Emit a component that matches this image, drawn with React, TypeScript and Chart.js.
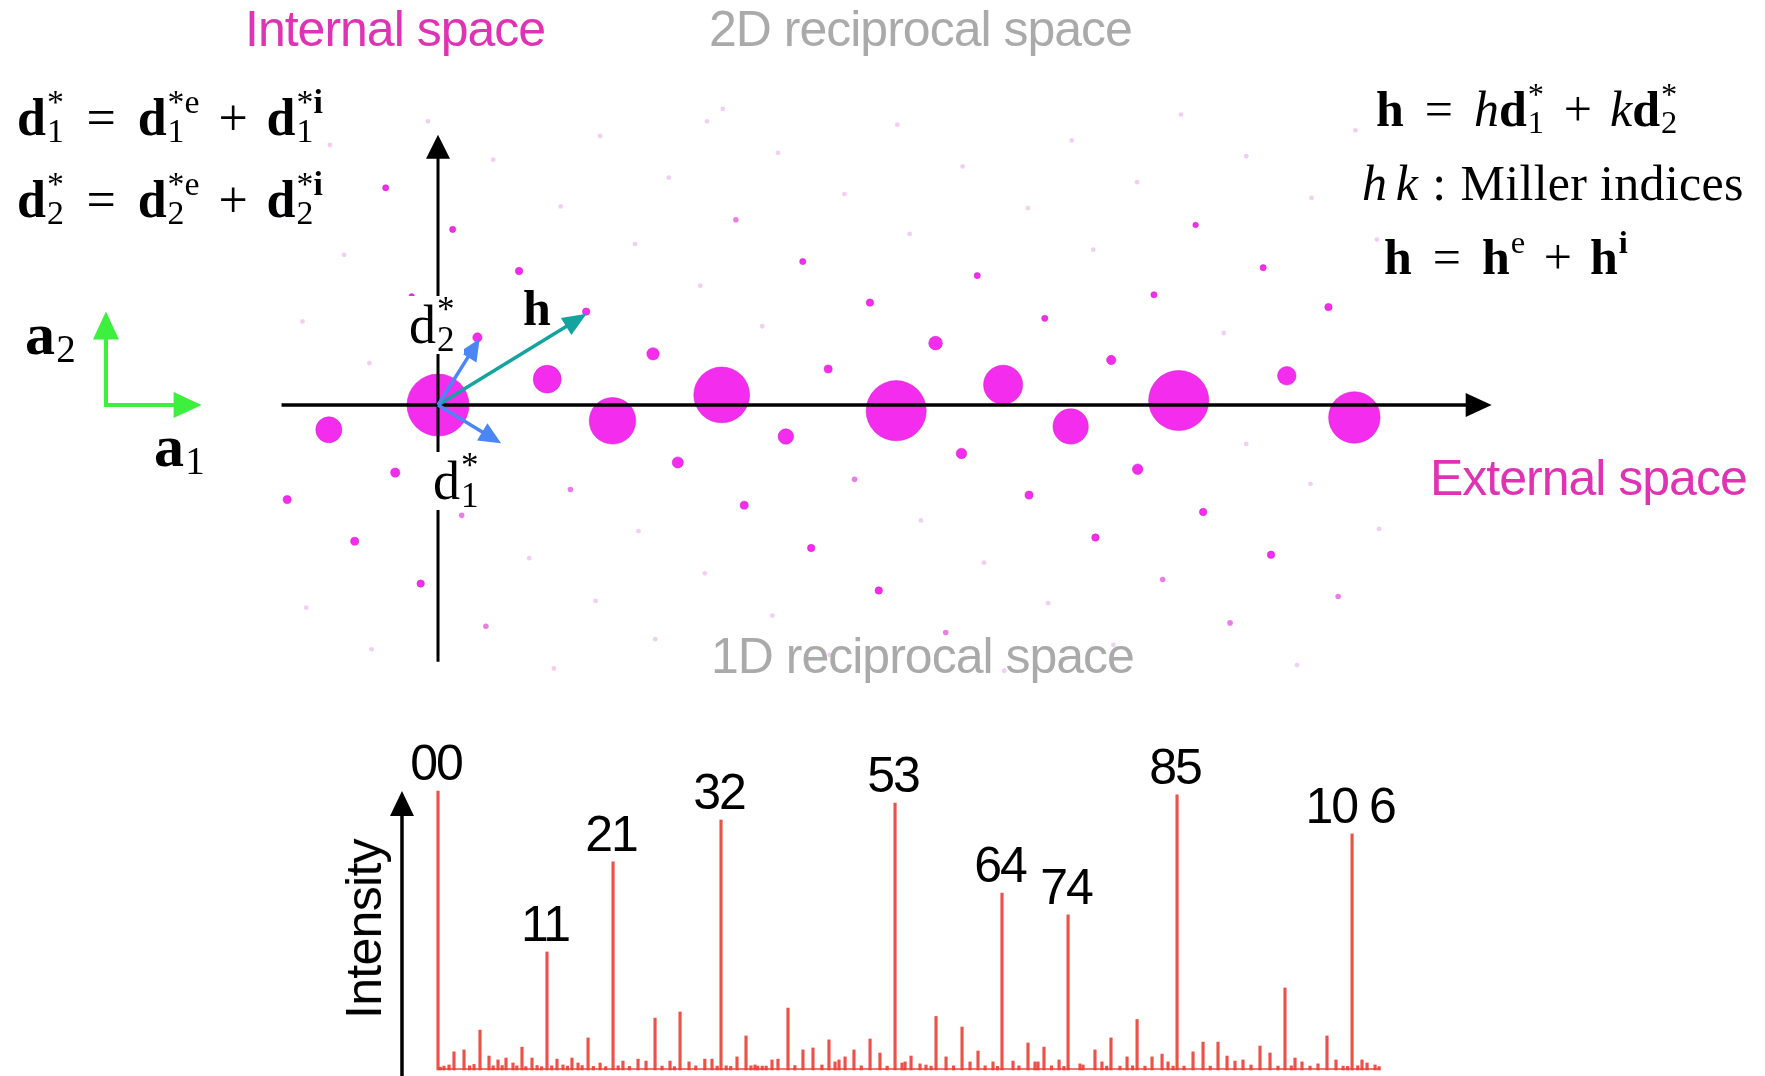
import React, { useEffect, useRef } from 'react';
import { Chart, registerables } from 'chart.js';

Chart.register(...registerables);

const W = 1765;
const H = 1076;
const TOP_H = 700;
const BOT_H = H - TOP_H;

// ---------- 2D reciprocal space (external q, internal q) ----------
const strongSpotX = [0, 0.97, 1.55, 2.52, 4.07, 5.02, 5.62, 6.58, 8.14, -0.97, 7.54, 1.91, 3.09, 4.42, 2.13, 4.65, 6.215, 5.98, 3.466, 0.35, -0.38, -0.74, -1.34, -0.154, 2.72, 3.315, 3.915, 5.25, 5.84, 6.797, 7.4, -0.465, 0.13, 0.72, 1.316, -0.234, 3.24, 3.837, 4.79, 5.39, 6.36, 6.73, 7.33, 7.91];
const strongSpotY = [0, 0.23, -0.14, 0.09, -0.05, 0.18, -0.19, 0.04, -0.11, -0.22, 0.26, 0.455, -0.28, 0.55, -0.51, -0.43, -0.57, 0.4, 0.32, 0.6, -0.6, -1.21, -0.84, -1.586, -0.89, -1.27, -1.647, -0.8, -1.177, -0.95, -1.33, 1.93, 1.56, 1.19, 0.83, 0.965, 1.275, 0.91, 1.15, 0.77, 0.98, 1.6, 1.22, 0.87];
const strongSpotI = [100, 45, 75, 90, 97, 63, 57, 97, 83, 42, 30, 20, 25, 22, 18, 17, 17, 15, 13, 15, 15, 13, 13, 12, 13, 12, 12, 13, 12, 12, 12, 10, 10, 12, 12, 9, 10, 12, 10, 10, 10, 9, 10, 12];

const weakSpotX = [0.21, 0.425, 1.176, 4.51, 3.7, 6.437, 7.036, 7.996, 2.646];
const weakSpotY = [-0.98, -1.965, -0.75, -2.02, -0.66, -1.55, -1.935, -1.7, 1.646];

const faintSpotX = [1.03, 0.81, 1.78, 2.37, 1.4, 4.29, 2.97, 7.18, 7.63, 8.36, 4.85, -1.17, -0.59, 1.93, 3.48, 5.03, 5.42, 6.0, 7.75, 2.05, 3.02, 3.61, 1.44, 0.49, -0.09, 2.39, -0.834, -1.204, -0.61, 1.09, 2.88, -1.35, -0.96, 1.75, 2.33, 2.53, 4.19, 5.24, 5.82, 6.98, 4.66, 4.08, 5.63, 6.21, 6.6, 7.18, 7.76, 8.34, 8.15];
const faintSpotY = [-2.34, -1.36, -1.12, -1.495, -1.74, -1.025, -1.87, -0.345, -2.31, -1.1, -1.4, -1.8, -2.17, -2.08, -2.22, -2.36, -1.76, -2.13, -0.7, 2.02, 2.24, 1.874, 2.39, 2.18, 2.52, 2.52, 1.334, 0.742, 0.373, 1.764, 0.7, 1.71, 2.31, 1.43, 1.06, 2.63, 1.52, 1.75, 1.38, 0.64, 2.12, 2.49, 2.35, 1.98, 2.58, 2.21, 1.84, 1.47, 2.44];

// basis and example vectors
const d1Star = [0.56, -0.34];
const d2Star = [0.37, 0.59];
const hVector = [1.32, 0.81];
// axis extents
const externalAxis = [-1.39, 9.36];
const internalAxis = [-2.28, 2.4];
// real-space frame (a1, a2)
const frameCorner = [-2.95, 0];
const a1Tip = [-2.1, 0];
const a2Tip = [-2.95, 0.83];

// ---------- 1D diffraction pattern ----------
const mainPeakLabel = ['00', '11', '21', '32', '53', '64', '74', '85', '10 6'];
const mainPeakQ = [0, 0.968, 1.555, 2.514, 4.06, 5.01, 5.597, 6.565, 8.12];
const mainPeakI = [100, 42.3, 74.6, 89.6, 95.7, 63.4, 55.6, 98.6, 84.6];
const minorPeakQ = [0.02, 0.053, 0.098, 0.142, 0.231, 0.28, 0.32, 0.373, 0.453, 0.49, 0.533, 0.57, 0.604, 0.666, 0.7, 0.746, 0.78, 0.835, 0.88, 0.92, 1.01, 1.057, 1.11, 1.15, 1.19, 1.244, 1.28, 1.333, 1.38, 1.44, 1.49, 1.6, 1.643, 1.7, 1.777, 1.848, 1.928, 1.99, 2.061, 2.1, 2.15, 2.23, 2.29, 2.37, 2.434, 2.48, 2.56, 2.6, 2.656, 2.736, 2.78, 2.816, 2.84, 2.88, 2.915, 2.967, 3.02, 3.109, 3.17, 3.242, 3.331, 3.41, 3.473, 3.527, 3.562, 3.616, 3.695, 3.76, 3.838, 3.926, 3.99, 4.122, 4.149, 4.202, 4.282, 4.335, 4.38, 4.424, 4.513, 4.58, 4.655, 4.726, 4.797, 4.86, 4.93, 4.97, 5.108, 5.16, 5.241, 5.303, 5.33, 5.383, 5.45, 5.517, 5.56, 5.703, 5.73, 5.836, 5.898, 5.94, 5.978, 6.058, 6.121, 6.17, 6.21, 6.28, 6.343, 6.432, 6.485, 6.53, 6.627, 6.707, 6.796, 6.86, 6.929, 7.009, 7.08, 7.151, 7.222, 7.302, 7.391, 7.462, 7.524, 7.58, 7.613, 7.675, 7.746, 7.817, 7.897, 7.977, 8.04, 8.08, 8.17, 8.208, 8.253, 8.324, 8.36];
const minorPeakI = [1.0, 1.4, 1.8, 6.5, 7.2, 1.5, 2.0, 14.3, 5.0, 1.5, 3.6, 1.6, 4.3, 2.5, 1.5, 8.2, 1.2, 4.3, 1.6, 1.2, 1.5, 3.9, 1.8, 1.4, 4.3, 2.5, 1.6, 11.5, 1.3, 2.5, 1.2, 1.5, 3.2, 1.3, 3.9, 3.2, 18.6, 1.4, 3.2, 1.2, 20.8, 2.9, 1.5, 3.9, 3.9, 1.4, 1.5, 1.3, 4.7, 12.2, 1.5, 1.8, 1.4, 1.4, 1.4, 3.6, 3.9, 22.2, 1.6, 7.2, 7.9, 1.8, 10.8, 2.9, 3.6, 4.7, 7.2, 1.5, 11.1, 6.1, 1.4, 2.5, 2.9, 5.0, 2.2, 1.8, 1.4, 19.2, 4.7, 1.5, 15.4, 2.9, 6.8, 1.5, 2.9, 1.3, 3.2, 1.5, 9.7, 2.9, 2.9, 8.2, 1.5, 3.6, 1.3, 2.2, 1.8, 7.2, 2.9, 1.4, 11.5, 1.4, 4.7, 1.5, 18.1, 1.4, 4.7, 5.7, 2.9, 1.4, 1.4, 6.5, 10.0, 1.4, 10.0, 5.0, 3.2, 3.6, 1.8, 8.6, 6.1, 1.4, 29.4, 1.5, 4.3, 2.9, 1.4, 2.2, 12.2, 3.6, 1.4, 1.3, 1.5, 3.6, 2.5, 1.8, 1.2];
const intensityArrowQ = -0.32;
const intensityArrowTop = 100;
const patternEnd = 8.37;

// ---------- shared scale extents ----------
const X_MIN = -3.891;
const X_MAX = 11.788;
const TOP_Y_MIN = -2.62;
const TOP_Y_MAX = 3.598;
const BOT_Y_MIN = -2.15;
const BOT_Y_MAX = 132.6;
const SPOT_PX = 0.31;

const SANS = '"Liberation Sans", Arial, Helvetica, sans-serif';
const SERIF = '"Liberation Serif", "Times New Roman", Times, serif';

function drawArrow(ctx: CanvasRenderingContext2D, x0: number, y0: number, x1: number, y1: number, color: string, lw: number, headLen: number, headHalf: number) {
  const ang = Math.atan2(y1 - y0, x1 - x0);
  const bx = x1 - headLen * Math.cos(ang);
  const by = y1 - headLen * Math.sin(ang);
  ctx.save();
  ctx.strokeStyle = color;
  ctx.fillStyle = color;
  ctx.lineWidth = lw;
  ctx.lineCap = 'butt';
  ctx.beginPath();
  ctx.moveTo(x0, y0);
  ctx.lineTo(bx + Math.cos(ang), by + Math.sin(ang));
  ctx.stroke();
  ctx.beginPath();
  ctx.moveTo(x1, y1);
  ctx.lineTo(bx + headHalf * Math.sin(ang), by - headHalf * Math.cos(ang));
  ctx.lineTo(bx - headHalf * Math.sin(ang), by + headHalf * Math.cos(ang));
  ctx.closePath();
  ctx.fill();
  ctx.restore();
}

const latticeDecor = {
  id: 'latticeDecor',
  afterDatasetsDraw(chart: any) {
    const { ctx, scales } = chart;
    const px = (v: number) => scales.x.getPixelForValue(v);
    const py = (v: number) => scales.y.getPixelForValue(v);
    drawArrow(ctx, px(externalAxis[0]), py(0), px(externalAxis[1]), py(0), '#000', 3.5, 26, 12);
    drawArrow(ctx, px(0), py(internalAxis[0]), px(0), py(internalAxis[1]), '#000', 3, 24, 12);
    const green = '#3EF03E';
    ctx.save();
    ctx.strokeStyle = green;
    ctx.lineWidth = 4;
    ctx.lineJoin = 'miter';
    ctx.beginPath();
    ctx.moveTo(px(a2Tip[0]), py(a2Tip[1]) + 26);
    ctx.lineTo(px(frameCorner[0]), py(frameCorner[1]));
    ctx.lineTo(px(a1Tip[0]) - 26, py(a1Tip[1]));
    ctx.stroke();
    ctx.restore();
    drawArrow(ctx, px(frameCorner[0]), py(frameCorner[1]), px(a1Tip[0]), py(a1Tip[1]), green, 4, 28, 13);
    drawArrow(ctx, px(frameCorner[0]), py(frameCorner[1]), px(a2Tip[0]), py(a2Tip[1]), green, 4, 28, 13);
    drawArrow(ctx, px(0), py(0), px(hVector[0]), py(hVector[1]), '#13A4A1', 3.5, 24, 10);
    drawArrow(ctx, px(0), py(0), px(d2Star[0]), py(d2Star[1]), '#4A86F6', 3.5, 22, 10);
    drawArrow(ctx, px(0), py(0), px(d1Star[0]), py(d1Star[1]), '#4A86F6', 3.5, 22, 10);
  },
};

const patternDecor = {
  id: 'patternDecor',
  beforeDatasetsDraw(chart: any) {
    const { ctx, scales } = chart;
    ctx.save();
    ctx.strokeStyle = 'rgba(235,70,60,0.75)';
    ctx.lineWidth = 2;
    ctx.beginPath();
    ctx.moveTo(scales.x.getPixelForValue(0), scales.y.getPixelForValue(0) - 1);
    ctx.lineTo(scales.x.getPixelForValue(patternEnd), scales.y.getPixelForValue(0) - 1);
    ctx.stroke();
    ctx.restore();
  },
  afterDatasetsDraw(chart: any) {
    const { ctx, scales } = chart;
    const ax = scales.x.getPixelForValue(intensityArrowQ);
    drawArrow(ctx, ax, chart.height + 2, ax, scales.y.getPixelForValue(intensityArrowTop), '#000', 3.5, 25, 12);
    ctx.save();
    ctx.fillStyle = '#000';
    ctx.font = `50px ${SANS}`;
    (ctx as any).letterSpacing = '-2px';
    ctx.textAlign = 'center';
    ctx.textBaseline = 'alphabetic';
    mainPeakLabel.forEach((t, i) => {
      ctx.fillText(t, scales.x.getPixelForValue(mainPeakQ[i]) - 2, scales.y.getPixelForValue(mainPeakI[i]) - 11);
    });
    ctx.restore();
  },
};

function TopChart() {
  const ref = useRef<HTMLCanvasElement>(null);
  useEffect(() => {
    const chart = new Chart(ref.current as HTMLCanvasElement, {
      type: 'bubble',
      data: {
        datasets: [
          {
            data: strongSpotX.map((x, i) => ({ x, y: strongSpotY[i], r: strongSpotI[i] * SPOT_PX })),
            backgroundColor: 'rgb(243,44,238)',
            borderColor: 'rgba(205,28,195,0.5)',
            borderWidth: 1,
          },
          {
            data: weakSpotX.map((x, i) => ({ x, y: weakSpotY[i], r: 2.8 })),
            backgroundColor: 'rgba(228,70,222,0.7)',
            borderWidth: 0,
          },
          {
            data: faintSpotX.map((x, i) => ({ x, y: faintSpotY[i], r: 2.4 })),
            backgroundColor: 'rgba(222,130,222,0.38)',
            borderWidth: 0,
          },
        ],
      } as any,
      options: {
        animation: false,
        responsive: false,
        events: [],
        layout: { padding: 0, autoPadding: false },
        plugins: { legend: { display: false }, tooltip: { enabled: false } },
        scales: {
          x: { type: 'linear', min: X_MIN, max: X_MAX, display: false },
          y: { type: 'linear', min: TOP_Y_MIN, max: TOP_Y_MAX, display: false },
        },
      } as any,
      plugins: [latticeDecor],
    });
    return () => chart.destroy();
  }, []);
  return <canvas ref={ref} width={W} height={TOP_H} style={{ position: 'absolute', left: 0, top: 0, width: W, height: TOP_H }} />;
}

function BottomChart() {
  const ref = useRef<HTMLCanvasElement>(null);
  useEffect(() => {
    const pts = [
      ...mainPeakQ.map((x, i) => ({ x, y: mainPeakI[i] })),
      ...minorPeakQ.map((x, i) => ({ x, y: minorPeakI[i] })),
    ];
    const chart = new Chart(ref.current as HTMLCanvasElement, {
      type: 'bar',
      data: {
        datasets: [
          {
            data: pts,
            backgroundColor: 'rgba(236,62,52,0.9)',
            borderWidth: 0,
            barThickness: 2.5,
          },
        ],
      } as any,
      options: {
        animation: false,
        responsive: false,
        events: [],
        layout: { padding: 0, autoPadding: false },
        plugins: { legend: { display: false }, tooltip: { enabled: false } },
        scales: {
          x: { type: 'linear', min: X_MIN, max: X_MAX, display: false, offset: false },
          y: { type: 'linear', min: BOT_Y_MIN, max: BOT_Y_MAX, display: false },
        },
      } as any,
      plugins: [patternDecor],
    });
    return () => chart.destroy();
  }, []);
  return <canvas ref={ref} width={W} height={BOT_H} style={{ position: 'absolute', left: 0, top: TOP_H, width: W, height: BOT_H }} />;
}

function T({ x, base, fs = 50, family = SANS, color = '#000', ls, children }: any) {
  return (
    <div style={{ position: 'absolute', left: x, top: base - fs * 0.845, fontSize: fs, lineHeight: `${fs}px`, fontFamily: family, color, whiteSpace: 'nowrap', letterSpacing: ls, zIndex: 3 }}>
      {children}
    </div>
  );
}

function Sc({ sup, sub, w }: any) {
  return (
    <span style={{ display: 'inline-block', position: 'relative', width: `${w}em`, height: 0 }}>
      {sup != null && (
        <span style={{ position: 'absolute', left: '0.02em', bottom: '0.25em', lineHeight: 1, whiteSpace: 'nowrap' }}>
          <span style={{ fontSize: '0.65em' }}>{sup}</span>
        </span>
      )}
      {sub != null && (
        <span style={{ position: 'absolute', left: '0.02em', bottom: '-0.30em', lineHeight: 1, whiteSpace: 'nowrap' }}>
          <span style={{ fontSize: '0.65em' }}>{sub}</span>
        </span>
      )}
    </span>
  );
}

const B = ({ children }: any) => <span style={{ fontWeight: 700 }}>{children}</span>;
const I = ({ children }: any) => <span style={{ fontStyle: 'italic' }}>{children}</span>;
const Eq = () => <span style={{ margin: '0 0.42em' }}>=</span>;
const Plus = () => <span style={{ margin: '0 0.36em' }}>+</span>;

function WhiteBox({ x, y, w, h }: any) {
  return <div style={{ position: 'absolute', left: x, top: y, width: w, height: h, background: '#fff', zIndex: 2 }} />;
}

export default function App() {
  return (
    <div style={{ position: 'absolute', left: 0, top: 0, width: W, height: H, overflow: 'hidden', background: '#fff' }}>
      <TopChart />
      <BottomChart />

      <T x={245} base={46} color="#DF33B4" ls="-1px">Internal space</T>
      <T x={709} base={46} color="#AAAAAA" ls="-1px">2D reciprocal space</T>
      <T x={711} base={673} color="#AAAAAA" ls="-1px">1D reciprocal space</T>
      <T x={1430} base={495} color="#DF33B4" ls="-1px">External space</T>

      <T x={17} base={136} fs={52} family={SERIF}>
        <B>d</B><Sc sup="*" sub="1" w={0.36} /><Eq /><B>d</B><Sc sup="*e" sub="1" w={0.64} /><Plus /><B>d</B><Sc sup={<>*<B>i</B></>} sub="1" w={0.54} />
      </T>
      <T x={17} base={218} fs={52} family={SERIF}>
        <B>d</B><Sc sup="*" sub="2" w={0.36} /><Eq /><B>d</B><Sc sup="*e" sub="2" w={0.64} /><Plus /><B>d</B><Sc sup={<>*<B>i</B></>} sub="2" w={0.54} />
      </T>

      <T x={1376} base={126} fs={50} family={SERIF}>
        <B>h</B><Eq /><I>h</I><B>d</B><Sc sup="*" sub="1" w={0.38} /><Plus /><I>k</I><B>d</B><Sc sup="*" sub="2" w={0.36} />
      </T>
      <T x={1362} base={200} fs={50} family={SERIF} ls="0.3px">
        <I>h</I><span style={{ marginLeft: '0.17em' }}><I>k</I></span><span style={{ margin: '0 0.28em' }}>:</span>Miller indices
      </T>
      <T x={1384} base={274} fs={50} family={SERIF}>
        <B>h</B><Eq /><B>h</B><Sc sup="e" w={0.32} /><Plus /><B>h</B><Sc sup={<B>i</B>} w={0.2} />
      </T>

      <T x={25} base={355} fs={60} family={SERIF}>
        <B>a</B><Sc sub="2" w={0.36} />
      </T>
      <T x={154} base={467} fs={60} family={SERIF}>
        <B>a</B><Sc sub="1" w={0.36} />
      </T>

      <WhiteBox x={408} y={296} w={56} h={58} />
      <T x={409} base={344} fs={54} family={SERIF}>
        <span>d</span><Sc sup="*" sub="2" w={0.36} />
      </T>
      <WhiteBox x={431} y={452} w={57} h={58} />
      <T x={433} base={500} fs={54} family={SERIF}>
        <span>d</span><Sc sup="*" sub="1" w={0.36} />
      </T>
      <WhiteBox x={522} y={289} w={34} h={38} />
      <T x={523} base={325} fs={50} family={SERIF}>
        <B>h</B>
      </T>

      <div style={{ position: 'absolute', left: 364, top: 929, transform: 'translate(-50%, -50%) rotate(-90deg)', fontFamily: SANS, fontSize: 50, lineHeight: '50px', letterSpacing: '-0.7px', whiteSpace: 'nowrap', color: '#000', zIndex: 3 }}>
        Intensity
      </div>
    </div>
  );
}
